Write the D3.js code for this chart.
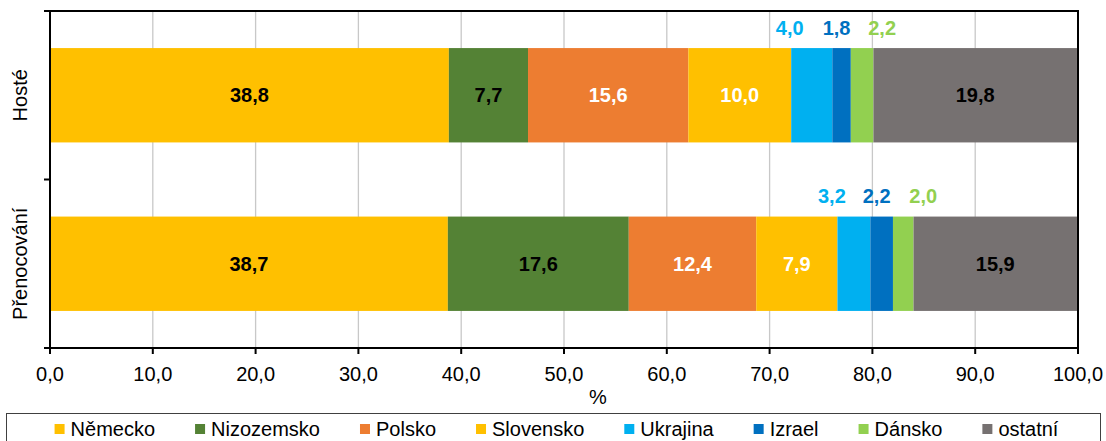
<!DOCTYPE html>
<html>
<head>
<meta charset="utf-8">
<script src="https://cdn.jsdelivr.net/npm/d3@7"></script>
<style>
  html, body { margin: 0; padding: 0; background: #fff; }
  svg { display: block; font-family: "Liberation Sans", Arial, sans-serif; }
</style>
</head>
<body>
<svg id="chart" width="1106" height="441"></svg>
<script>
// ---- Data ----
const categories = ["Hosté", "Přenocování"];
const seriesNames = ["Německo", "Nizozemsko", "Polsko", "Slovensko", "Ukrajina", "Izrael", "Dánsko", "ostatní"];
const seriesColors = ["#FFC000", "#548235", "#ED7D31", "#FFC000", "#00B0F0", "#0070C0", "#92D050", "#767171"];
const nemecko    = [38.8, 38.7];
const nizozemsko = [7.7, 17.6];
const polsko     = [15.6, 12.4];
const slovensko  = [10.0, 7.9];
const ukrajina   = [4.0, 3.2];
const izrael     = [1.8, 2.2];
const dansko     = [2.2, 2.0];
const ostatni    = [19.8, 15.9];
const xTicks = [0, 10, 20, 30, 40, 50, 60, 70, 80, 90, 100];
const xAxisTitle = "%";

const seriesValues = [nemecko, nizozemsko, polsko, slovensko, ukrajina, izrael, dansko, ostatni];

// ---- Style ----
const labelInside = [true, true, true, true, false, false, false, true];
const labelColor  = ["#000", "#000", "#fff", "#fff", null, null, null, "#000"];
const outsideOffset = [0, 0, 0, 0, -22, -5, 20, 0];

const svg = d3.select("#chart");
const L = 50, R = 1078, T = 11, B = 348;
const fmt = v => d3.format(".1f")(v).replace(".", ",");

const x = d3.scaleLinear().domain([0, 100]).range([L, R]);
const y = d3.scaleBand().domain(categories).range([T, B]).paddingInner(0.44).paddingOuter(0.22);

// gridlines
svg.append("g").selectAll("line").data(xTicks.filter(d => d > 0 && d < 100)).join("line")
  .attr("x1", d => x(d)).attr("x2", d => x(d)).attr("y1", T).attr("y2", B)
  .attr("stroke", "#C8C8C8").attr("stroke-width", 1.3);

// stacked data
const rows = categories.map((c, i) => {
  let cum = 0;
  return seriesNames.map((s, j) => {
    const v = seriesValues[j][i];
    const r = { cat: c, j, v, x0: cum, x1: cum + v };
    cum += v;
    return r;
  });
}).flat();

svg.append("g").selectAll("rect").data(rows).join("rect")
  .attr("x", d => x(d.x0)).attr("width", d => x(d.x1) - x(d.x0))
  .attr("y", d => y(d.cat)).attr("height", y.bandwidth())
  .attr("fill", d => seriesColors[d.j]);

// labels
svg.append("g").selectAll("text").data(rows).join("text")
  .attr("x", d => (x(d.x0) + x(d.x1)) / 2 + outsideOffset[d.j])
  .attr("y", d => labelInside[d.j] ? y(d.cat) + y.bandwidth() / 2 : y(d.cat) - 20.5)
  .attr("dy", "0.36em")
  .attr("text-anchor", "middle")
  .attr("font-weight", "bold")
  .attr("font-size", 20)
  .attr("fill", d => labelInside[d.j] ? labelColor[d.j] : seriesColors[d.j])
  .text(d => fmt(d.v));

// frame
svg.append("rect").attr("x", L).attr("y", T).attr("width", R - L).attr("height", B - T)
  .attr("fill", "none").attr("stroke", "#000").attr("stroke-width", 2);

// x axis ticks
const xAxis = svg.append("g");
xAxis.selectAll("line").data(xTicks).join("line")
  .attr("x1", d => x(d)).attr("x2", d => x(d)).attr("y1", B).attr("y2", B + 6)
  .attr("stroke", "#000").attr("stroke-width", 2);
xAxis.selectAll("text").data(xTicks).join("text")
  .attr("x", d => x(d)).attr("y", 381)
  .attr("text-anchor", "middle").attr("font-size", 20).attr("fill", "#000")
  .text(d => fmt(d));
svg.append("text").attr("x", 598).attr("y", 404).attr("text-anchor", "middle")
  .attr("font-size", 20).text(xAxisTitle);

// y axis ticks (category boundaries)
const yBounds = [T, (y(categories[0]) + y.bandwidth() + y(categories[1])) / 2, B];
svg.append("g").selectAll("line").data(yBounds).join("line")
  .attr("x1", L - 6).attr("x2", L).attr("y1", d => d).attr("y2", d => d)
  .attr("stroke", "#000").attr("stroke-width", 2);
svg.append("g").selectAll("text").data(categories).join("text")
  .attr("transform", d => `translate(27,${y(d) + y.bandwidth() / 2}) rotate(-90)`)
  .attr("text-anchor", "middle").attr("font-size", 20).attr("fill", "#000")
  .text(d => d);

// legend
svg.append("rect").attr("x", 6.5).attr("y", 413.5).attr("width", 1094).attr("height", 40)
  .attr("fill", "#fff").attr("stroke", "#404040").attr("stroke-width", 1);
const lg = svg.append("g");
const items = seriesNames.map((n, i) => {
  const g = lg.append("g");
  g.append("rect").attr("x", 0).attr("y", 424).attr("width", 10).attr("height", 10).attr("fill", seriesColors[i]);
  const t = g.append("text").attr("x", 16).attr("y", 436).attr("font-size", 20).attr("fill", "#000").text(n);
  return { g, w: 16 + t.node().getComputedTextLength() };
});
const gap = 40;
const total = d3.sum(items, d => d.w) + gap * (items.length - 1);
let cx = 556.5 - total / 2;
items.forEach(it => { it.g.attr("transform", `translate(${cx},0)`); cx += it.w + gap; });
</script>
</body>
</html>
